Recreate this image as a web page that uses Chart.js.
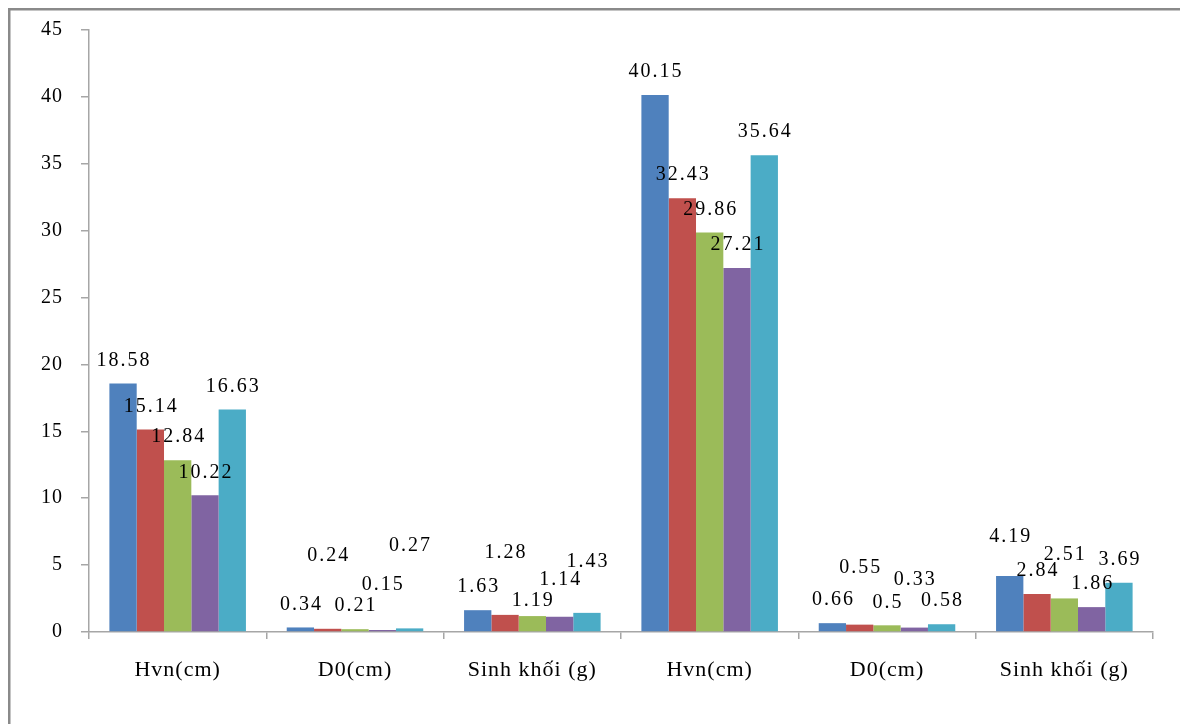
<!DOCTYPE html>
<html>
<head>
<meta charset="utf-8">
<script src="https://cdn.jsdelivr.net/npm/chart.js@4.4.1/dist/chart.umd.min.js"></script>
<style>
  html, body { margin: 0; padding: 0; background: #ffffff; }
  #wrap { width: 1180px; height: 724px; position: relative; }
</style>
</head>
<body>
<div id="wrap"><canvas id="c" width="1180" height="724"></canvas></div>
<script>
// Categories along the x axis (two measurement rounds, three indicators each)
const categories = ['Hvn(cm)', 'D0(cm)', 'Sinh khối (g)', 'Hvn(cm)', 'D0(cm)', 'Sinh khối (g)'];

// Series values, one array per treatment
const seriesNames = ['CT1', 'CT2', 'CT3', 'CT4', 'CT5'];
const ct1 = [18.58, 0.34, 1.63, 40.15, 0.66, 4.19];
const ct2 = [15.14, 0.24, 1.28, 32.43, 0.55, 2.84];
const ct3 = [12.84, 0.21, 1.19, 29.86, 0.5, 2.51];
const ct4 = [10.22, 0.15, 1.14, 27.21, 0.33, 1.86];
const ct5 = [16.63, 0.27, 1.43, 35.64, 0.58, 3.69];

// Value axis ticks
const yTicks = [0, 5, 10, 15, 20, 25, 30, 35, 40, 45];

const seriesValues = [ct1, ct2, ct3, ct4, ct5];
const seriesColors = ['#4F81BD', '#C0504D', '#9BBB59', '#8064A2', '#4BACC6'];

// Extra vertical lift (px) for value labels that sit higher to avoid overlapping
const labelLift = [
  [0, 0, 0, 0, 0, 16],
  [0, 50, 39, 0, 34, 0],
  [0, 0, -8, 0, 0, 21],
  [0, 22, 14, 0, 25, 0],
  [0, 60, 28, 0, 0, 0]
];

const SERIF = '"Liberation Serif", "Times New Roman", serif';

// Grey frame around the chart plus letter-spaced text
const framePlugin = {
  id: 'frame',
  beforeDraw(chart) {
    const ctx = chart.ctx;
    ctx.save();
    ctx.fillStyle = '#ffffff';
    ctx.fillRect(0, 0, chart.width, chart.height);
    ctx.strokeStyle = '#8a8a8a';
    ctx.lineWidth = 2.5;
    ctx.beginPath();
    ctx.moveTo(9.25, chart.height + 5);
    ctx.lineTo(9.25, 9.25);
    ctx.lineTo(chart.width + 5, 9.25);
    ctx.stroke();
    ctx.restore();
    ctx.letterSpacing = '1px';
  }
};

// Value labels above each bar
const valueLabelPlugin = {
  id: 'valueLabels',
  afterDatasetsDraw(chart) {
    const ctx = chart.ctx;
    ctx.save();
    ctx.font = '20px ' + SERIF;
    ctx.fillStyle = '#000000';
    ctx.textAlign = 'center';
    ctx.textBaseline = 'middle';
    ctx.letterSpacing = '2px';
    chart.data.datasets.forEach((ds, di) => {
      const meta = chart.getDatasetMeta(di);
      meta.data.forEach((bar, i) => {
        const lift = labelLift[di][i];
        ctx.fillText(String(ds.data[i]), bar.x + 1, bar.y - 23 - lift);
      });
    });
    ctx.restore();
  }
};

new Chart(document.getElementById('c'), {
  type: 'bar',
  data: {
    labels: categories,
    datasets: seriesValues.map((vals, i) => ({
      label: seriesNames[i],
      data: vals,
      backgroundColor: seriesColors[i],
      borderWidth: 0,
      barPercentage: 1.0,
      categoryPercentage: 0.77
    }))
  },
  options: {
    responsive: false,
    animation: false,
    devicePixelRatio: 1,
    layout: { padding: { left: 0, right: 27, top: 29, bottom: 0 } },
    plugins: {
      legend: { display: false },
      tooltip: { enabled: false }
    },
    scales: {
      x: {
        offset: true,
        grid: {
          offset: true,
          drawOnChartArea: false,
          drawTicks: true,
          tickLength: 7,
          color: '#a6a6a6',
          lineWidth: 1.5
        },
        border: { display: true, color: '#a6a6a6', width: 1.5 },
        ticks: {
          color: '#000000',
          font: { family: SERIF, size: 22, weight: 'normal' },
          padding: 18,
          maxRotation: 0,
          autoSkip: false
        },
        afterFit(scale) { scale.height = 92; }
      },
      y: {
        min: 0,
        max: 45,
        afterBuildTicks(scale) { scale.ticks = yTicks.map(v => ({ value: v })); },
        grid: {
          drawOnChartArea: false,
          drawTicks: true,
          tickLength: 8,
          color: '#a6a6a6',
          lineWidth: 1.5
        },
        border: { display: true, color: '#a6a6a6', width: 1.5 },
        ticks: {
          color: '#000000',
          font: { family: SERIF, size: 20 },
          padding: 18
        },
        afterFit(scale) { scale.width = 89; }
      }
    }
  },
  plugins: [framePlugin, valueLabelPlugin]
});
</script>
</body>
</html>
